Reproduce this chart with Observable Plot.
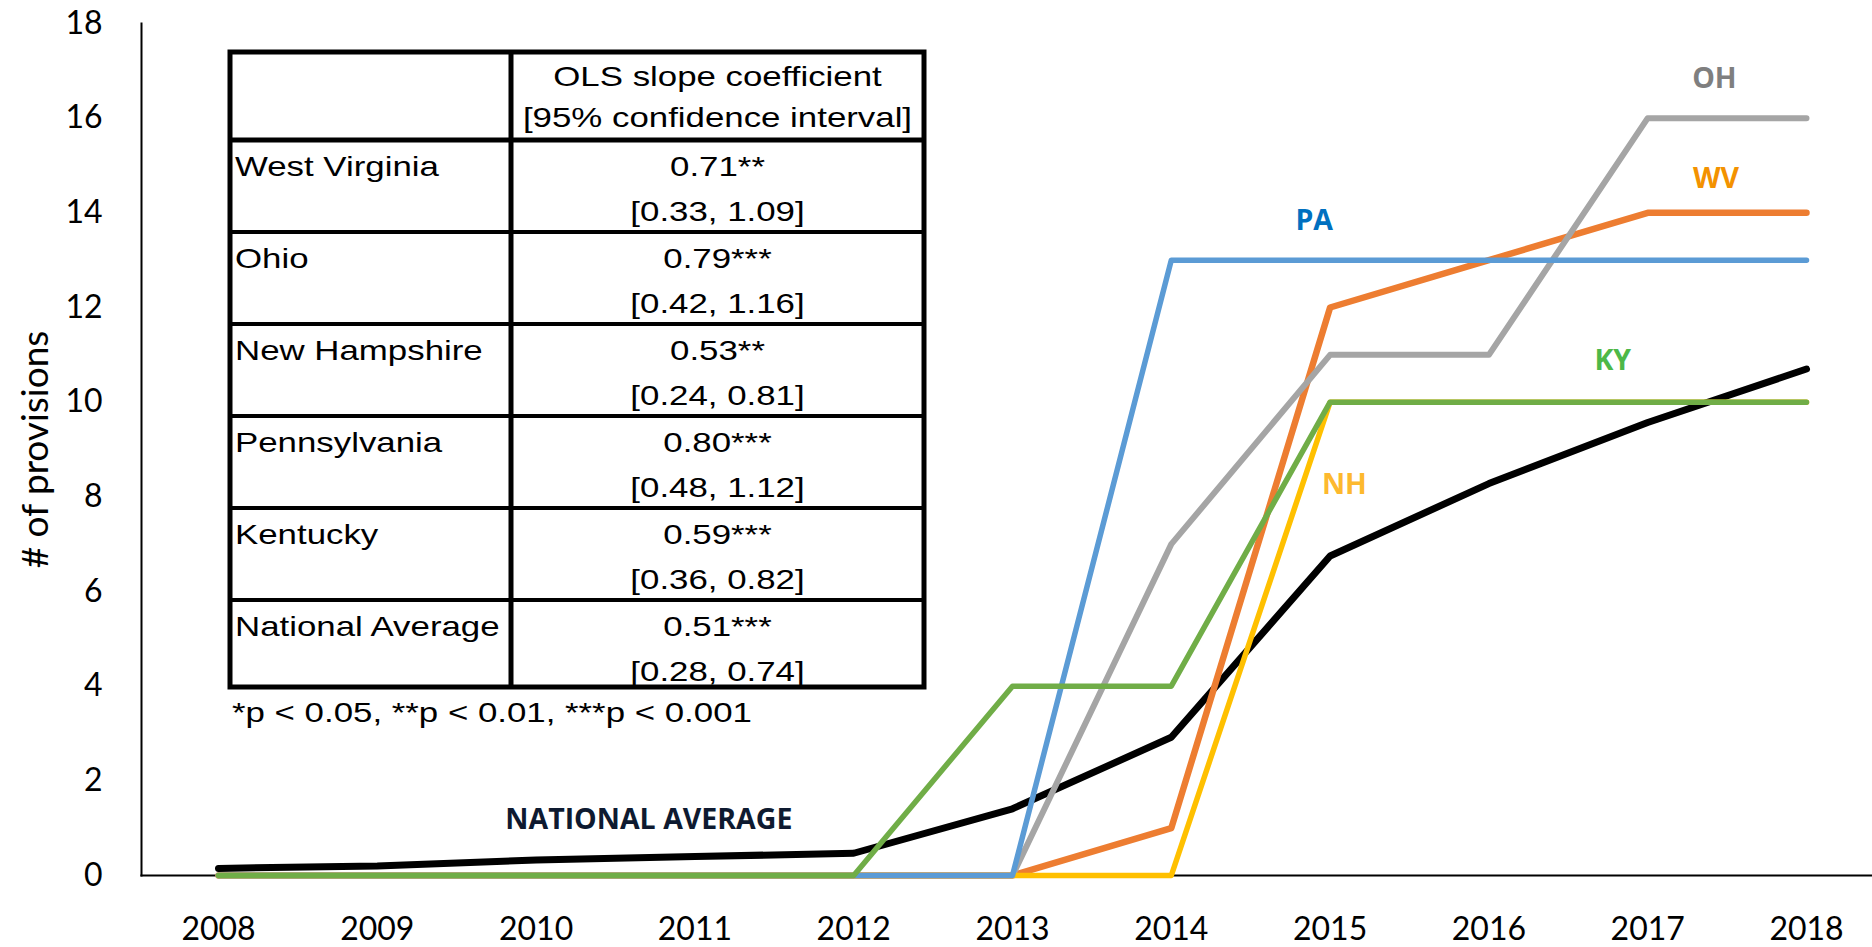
<!DOCTYPE html>
<html>
<head>
<meta charset="utf-8">
<script src="https://cdn.jsdelivr.net/npm/d3@7"></script>
<script src="https://cdn.jsdelivr.net/npm/@observablehq/plot@0.6"></script>
<style>
  html, body { margin: 0; padding: 0; background: #fff; }
  #chart { width: 1872px; height: 947px; }
</style>
</head>
<body>
<div id="chart"></div>
<script>
// ---- data ----
const years = [2008, 2009, 2010, 2011, 2012, 2013, 2014, 2015, 2016, 2017, 2018];
const natAvg = [0.15, 0.2, 0.33, 0.4, 0.47, 1.41, 2.92, 6.75, 8.28, 9.57, 10.7];
const westVirginia = [0, 0, 0, 0, 0, 0, 1, 12, 13, 14, 14];
const ohio = [0, 0, 0, 0, 0, 0, 7, 11, 11, 16, 16];
const newHampshire = [0, 0, 0, 0, 0, 0, 0, 10, 10, 10, 10];
const pennsylvania = [0, 0, 0, 0, 0, 0, 13, 13, 13, 13, 13];
const kentucky = [0, 0, 0, 0, 0, 4, 4, 10, 10, 10, 10];
const yTicks = [0, 2, 4, 6, 8, 10, 12, 14, 16, 18];

const seriesNames = ["NATIONAL AVERAGE", "WV", "OH", "NH", "PA", "KY"];
const seriesValues = [natAvg, westVirginia, ohio, newHampshire, pennsylvania, kentucky];
// annotation anchors (data units)
const labelText = ["NATIONAL AVERAGE", "WV", "OH", "NH", "PA", "KY"];
const labelYear = [2010.71, 2017.43, 2017.42, 2015.09, 2014.9, 2016.78];
const labelValue = [1.18, 14.72, 16.84, 8.25, 13.84, 10.88];

// table contents
const tableHeader = ["OLS slope coefficient", "[95% confidence interval]"];
const tableStates = ["West Virginia", "Ohio", "New Hampshire", "Pennsylvania", "Kentucky", "National Average"];
const tableCoef = ["0.71**", "0.79***", "0.53**", "0.80***", "0.59***", "0.51***"];
const tableCI = ["[0.33, 1.09]", "[0.42, 1.16]", "[0.24, 0.81]", "[0.48, 1.12]", "[0.36, 0.82]", "[0.28, 0.74]"];
const footnote = "*p < 0.05, **p < 0.01, ***p < 0.001";

// ---- styles ----
const lineColors = ["#000000", "#ED7D31", "#A5A5A5", "#FFC000", "#5B9BD5", "#70AD47"];
const lineWidths = [7, 6.5, 6, 5.5, 5.5, 5.5];
const labelColors = ["#0E1A30", "#F39200", "#7F7F7F", "#FDB92E", "#0070C0", "#4DB848"];

const lineMarks = seriesNames.map((name, i) =>
  Plot.line(years.map((yr, j) => ({year: yr, value: seriesValues[i][j]})), {
    x: "year", y: "value",
    stroke: lineColors[i], strokeWidth: lineWidths[i],
    strokeLinecap: "round", strokeLinejoin: "round"
  })
);

const annotations = labelText.map((t, i) => ({label: t, year: labelYear[i], value: labelValue[i], color: labelColors[i]}));

const chart = Plot.plot({
  width: 1872,
  height: 947,
  marginLeft: 141,
  marginRight: 0,
  marginTop: 23,
  marginBottom: 72,
  style: {fontFamily: "Lato, sans-serif", color: "#000", background: "#fff"},
  x: {type: "linear", domain: [2008, 2018], range: [218, 1806]},
  y: {domain: [0, 18]},
  marks: [
    Plot.frame({anchor: "left", stroke: "#000", strokeWidth: 2}),
    Plot.frame({anchor: "bottom", stroke: "#000", strokeWidth: 2.2}),
    Plot.axisY({ticks: yTicks, tickSize: 0, tickPadding: 39, fontSize: 32, label: null, tickFormat: d => String(d)}),
    Plot.axisX({ticks: years, tickSize: 0, tickPadding: 42, fontSize: 32, label: null, tickFormat: d => String(d)}),
    Plot.text(["# of provisions"], {frameAnchor: "left", dx: -105, rotate: -90, textAnchor: "middle", lineAnchor: "middle", fontSize: 37, fill: "#000"}),
    ...lineMarks,
    Plot.text(annotations, {
      x: "year", y: "value", text: "label", fill: "color",
      fontSize: 28.5, fontWeight: 700, fontFamily: "'Open Sans', sans-serif"
    })
  ]
});

document.getElementById("chart").appendChild(chart);

// ---- inset table ----
const svg = d3.select(chart);
const g = svg.append("g").attr("class", "ols-table");
const tLeft = 230, tRight = 924, tDiv = 511, tTop = 52, tBottom = 687;
const rowLines = [140, 232, 324, 416, 508, 600];
const sx = 1.29;
const tFont = "'Liberation Sans', Arial, sans-serif";

function addText(str, x, y, anchor) {
  g.append("text")
    .attr("transform", `translate(${x},${y}) scale(${sx},1)`)
    .attr("text-anchor", anchor)
    .attr("font-family", tFont)
    .attr("font-size", 27)
    .attr("fill", "#000")
    .text(str);
}

g.append("rect").attr("x", tLeft).attr("y", tTop)
  .attr("width", tRight - tLeft).attr("height", tBottom - tTop)
  .attr("fill", "#fff").attr("stroke", "#000").attr("stroke-width", 5);
g.append("line").attr("x1", tDiv).attr("x2", tDiv).attr("y1", tTop).attr("y2", tBottom)
  .attr("stroke", "#000").attr("stroke-width", 5);
rowLines.forEach((ry, i) => {
  g.append("line").attr("x1", tLeft).attr("x2", tRight).attr("y1", ry).attr("y2", ry)
    .attr("stroke", "#000").attr("stroke-width", i === 0 ? 5 : 4);
});

const colCenter = (tDiv + tRight) / 2;
addText(tableHeader[0], colCenter, 86, "middle");
addText(tableHeader[1], colCenter, 127, "middle");
tableStates.forEach((s, i) => {
  const top = rowLines[i];
  addText(s, tLeft + 5, top + 36, "start");
  addText(tableCoef[i], colCenter, top + 36, "middle");
  addText(tableCI[i], colCenter, top + 81, "middle");
});
addText(footnote, tLeft + 2, 722, "start");
</script>
</body>
</html>
